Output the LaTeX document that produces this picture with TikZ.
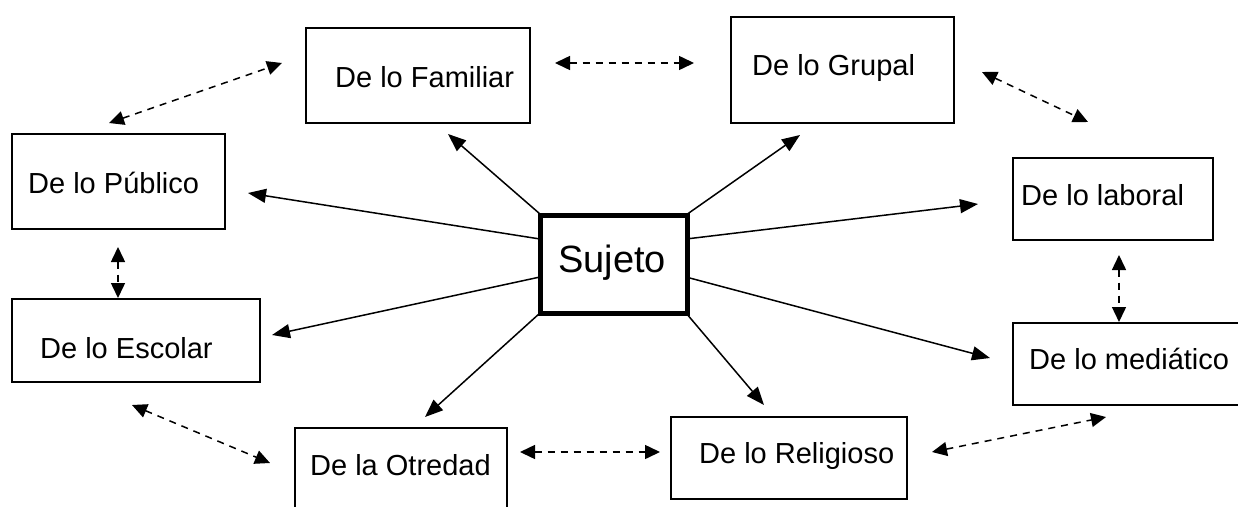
\documentclass[tikz,border=0pt]{standalone}
\usepackage{fontspec}
\setmainfont{Liberation Sans}
\usetikzlibrary{arrows.meta}
\begin{document}
\begin{tikzpicture}[x=1pt,y=-1pt,
  box/.style={draw,line width=1.3pt,inner sep=0pt,outer sep=0pt,anchor=north west},
  lbl/.style={anchor=base west,inner sep=0pt,font=\fontsize{29}{35}\selectfont},
  solidarrow/.style={line width=1.5pt,-{Triangle[length=18pt,width=14pt]}},
  dasharrow/.style={line width=1.5pt,dash pattern=on 7pt off 6pt,{Triangle[length=15pt,width=14pt]}-{Triangle[length=15pt,width=14pt]}}]
\useasboundingbox (0,0) rectangle (1238,506);
\clip (0,0) rectangle (1238,506);
% boxes
\node[box,minimum width=224pt,minimum height=95pt] (fam) at (306,28) {};
\node[box,minimum width=223pt,minimum height=106pt] (grp) at (731,17) {};
\node[box,minimum width=213pt,minimum height=95pt] (pub) at (12,134) {};
\node[box,minimum width=200pt,minimum height=82pt] (lab) at (1013,158) {};
\node[box,minimum width=248pt,minimum height=83pt] (esc) at (12,299) {};
\node[box,minimum width=260pt,minimum height=82pt] (med) at (1013,323) {};
\node[box,minimum width=212pt,minimum height=100pt] (otr) at (295,428) {};
\node[box,minimum width=236pt,minimum height=82pt] (rel) at (671,417) {};
\node[box,line width=5pt,minimum width=147pt,minimum height=98pt] (suj) at (540,215) {};
% labels
\node[lbl] (tfam) at (335,87) {De lo Familiar};
\node[lbl] (tgrp) at (752,75) {De lo Grupal};
\node[lbl] (tpub) at (28,193) {De lo Público};
\node[lbl] (tlab) at (1021,205) {De lo laboral};
\node[lbl] (tesc) at (40,358) {De lo Escolar};
\node[lbl] (tmed) at (1029,369) {De lo mediático};
\node[lbl] (totr) at (310,475) {De la Otredad};
\node[lbl] (trel) at (699,463) {De lo Religioso};
\node[anchor=base,inner sep=0pt,font=\fontsize{38}{44}\selectfont] (tsuj) at (612,272) {Sujeto};
% connector end points
\coordinate (s1) at (540,214);
\coordinate (s2) at (540,239);
\coordinate (s3) at (540,277);
\coordinate (s4) at (540,313);
\coordinate (s5) at (686,215);
\coordinate (s6) at (686,239);
\coordinate (s7) at (686,277);
\coordinate (s8) at (686,313);
\coordinate (pfam) at (448,134);
\coordinate (ppub) at (248,193);
\coordinate (pesc) at (272,335);
\coordinate (potr) at (425,417);
\coordinate (pgrp) at (800,135);
\coordinate (plab) at (978,204);
\coordinate (pmed) at (990,358);
\coordinate (prel) at (764,405);
% solid arrows
\draw[solidarrow] (s1) -- (pfam);
\draw[solidarrow] (s2) -- (ppub);
\draw[solidarrow] (s3) -- (pesc);
\draw[solidarrow] (s4) -- (potr);
\draw[solidarrow] (s5) -- (pgrp);
\draw[solidarrow] (s6) -- (plab);
\draw[solidarrow] (s7) -- (pmed);
\draw[solidarrow] (s8) -- (prel);
% dashed double arrows
\coordinate (d1a) at (109,123); \coordinate (d1b) at (282,63);
\coordinate (d2a) at (555,63);  \coordinate (d2b) at (694,63);
\coordinate (d3a) at (982,72);  \coordinate (d3b) at (1088,122);
\coordinate (d4a) at (118,247); \coordinate (d4b) at (118,298);
\coordinate (d5a) at (1119,255); \coordinate (d5b) at (1119,322);
\coordinate (d6a) at (132,405); \coordinate (d6b) at (270,463);
\coordinate (d7a) at (520,452); \coordinate (d7b) at (660,452);
\coordinate (d8a) at (932,452); \coordinate (d8b) at (1106,417);
\draw[dasharrow] (d1a) -- (d1b);
\draw[dasharrow] (d2a) -- (d2b);
\draw[dasharrow] (d3a) -- (d3b);
\draw[dasharrow] (d4a) -- (d4b);
\draw[dasharrow] (d5a) -- (d5b);
\draw[dasharrow] (d6a) -- (d6b);
\draw[dasharrow] (d7a) -- (d7b);
\draw[dasharrow] (d8a) -- (d8b);
\end{tikzpicture}
\end{document}
